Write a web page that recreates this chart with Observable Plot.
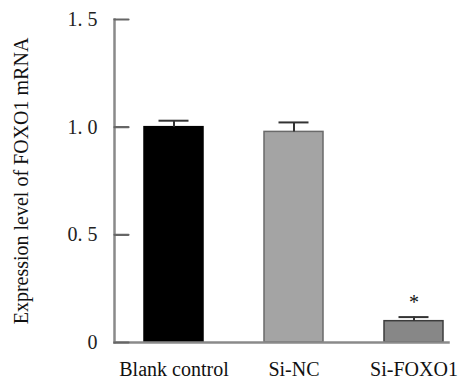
<!DOCTYPE html>
<html>
<head>
<meta charset="utf-8">
<script src="https://cdn.jsdelivr.net/npm/d3@7"></script>
<script src="https://cdn.jsdelivr.net/npm/@observablehq/plot@0.6"></script>
<style>
  html, body { margin: 0; padding: 0; background: #fff; }
  svg text { font-family: 'Liberation Serif', 'Times New Roman', serif; }
</style>
</head>
<body>
<div id="chart"></div>
<script>
const categories = ["Blank control", "Si-NC", "Si-FOXO1"];
const values = [1.0, 0.978, 0.099];
const errors = [0.030, 0.044, 0.019];
const significant = [false, false, true];
const yTicks = [0, 0.5, 1.0, 1.5];
const yLabel = "Expression level of FOXO1 mRNA";
const fills = ["#000000", "#a4a4a4", "#878787"];
const strokes = ["#000000", "#6a6a6a", "#3c3c3c"];

const data = categories.map((c, i) => ({
  cat: c, value: values[i], err: errors[i], top: values[i] + errors[i],
  fill: fills[i], stroke: strokes[i], sig: significant[i]
}));

const fmt = d => d === 0 ? "0" : d3.format(".1f")(d).replace(".", ". ");
const serif = "'Liberation Serif', 'Times New Roman', serif";

const tickShape = { draw(ctx, l) { ctx.moveTo(0, 0); ctx.lineTo(0, -l); } };

const chart = Plot.plot({
  width: 458,
  height: 382,
  marginLeft: 114,
  marginRight: 10,
  marginTop: 19,
  marginBottom: 40,
  style: { fontFamily: serif, fontSize: "20px", background: "#fff", color: "#111" },
  x: { domain: categories, range: [114, 474], paddingInner: 0.508, paddingOuter: 0.254, label: null },
  y: { domain: [0, 1.5], label: null },
  marks: [
    Plot.barY(data, { x: "cat", y: "value", fill: "fill", stroke: "stroke", strokeWidth: 1.5 }),
    Plot.ruleX(data, { x: "cat", y1: "value", y2: "top", stroke: "#333", strokeWidth: 2 }),
    Plot.tickY(data, { x: "cat", y: "top", stroke: "#333", strokeWidth: 2, insetLeft: 14.5, insetRight: 14.5 }),
    Plot.text(data.filter(d => d.sig), { x: "cat", y: "top", text: () => "*", dy: -14, fontSize: 20, fontFamily: serif, fill: "#111" }),
    Plot.frame({ anchor: "left", stroke: "#8a8a8a", strokeWidth: 2.5 }),
    Plot.frame({ anchor: "bottom", stroke: "#8a8a8a", strokeWidth: 2.5 }),
    Plot.vector(yTicks, { y: d => d, frameAnchor: "left", length: 14, rotate: 90, anchor: "start", shape: tickShape, stroke: "#666", strokeWidth: 2.2 }),
    Plot.axisY(yTicks, { tickSize: 0, tickPadding: 17, tickFormat: fmt, fontSize: 20, fontFamily: serif, fill: "#222" }),
    Plot.axisX({ tickSize: 0, tickPadding: 19, fontSize: 20, fontFamily: serif, fill: "#111" }),
    Plot.text([yLabel], { text: d => d, frameAnchor: "left", textAnchor: "middle", rotate: -90, dx: -93, fontSize: 20, fontFamily: serif, fill: "#111" })
  ]
});
document.getElementById("chart").appendChild(chart);
</script>
</body>
</html>
